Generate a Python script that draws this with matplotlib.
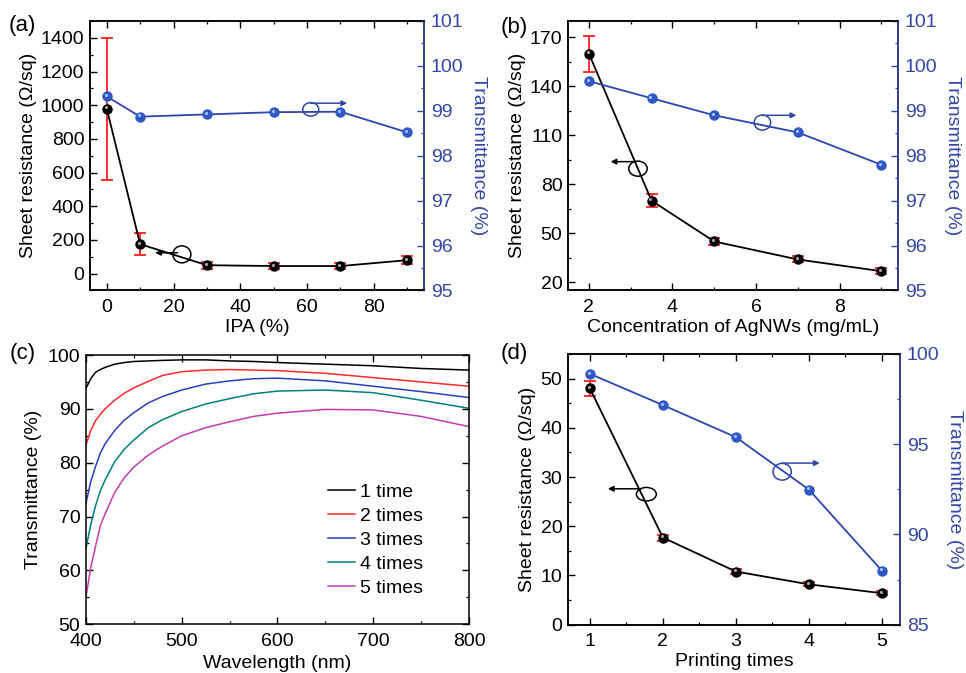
import matplotlib

matplotlib.use("Agg")
import matplotlib.pyplot as plt
from matplotlib.patches import Ellipse
from matplotlib.ticker import MultipleLocator
from matplotlib.transforms import offset_copy

plt.rcParams["font.family"] = ["Liberation Sans", "DejaVu Sans"]
plt.rcParams["font.size"] = 14
plt.rcParams["axes.linewidth"] = 1.1

BLUE_AX = "#3347a6"
BLUE_LN = "#2c46b0"
BLUE_MK = "#2f58c4"
RED = "#ff2020"

# (a) IPA content
ipa = [0, 10, 30, 50, 70, 90]
ipa_r = [980, 175, 50, 45, 45, 80]
ipa_r_err = [422, 65, 20, 18, 18, 22]
ipa_t = [99.32, 98.87, 98.92, 98.97, 98.98, 98.52]

# (b) AgNW concentration
conc = [2, 3.5, 5, 7, 9]
conc_r = [160, 70, 45, 34, 26.8]
conc_r_err = [11, 4, 2, 1.8, 1.8]
conc_t = [99.66, 99.28, 98.9, 98.52, 97.8]

# (c) spectra
wl = [400, 405, 410, 415, 420, 430, 440, 450, 465, 480, 500, 525, 550, 575, 600, 650, 700, 750, 800]
spectra = {
    "1 time": [93.8, 95.6, 96.8, 97.3, 97.7, 98.3, 98.6, 98.8, 98.9, 99.0, 99.1, 99.1, 98.9, 98.8, 98.6, 98.3, 98.0, 97.5, 97.2],
    "2 times": [83.3, 86.0, 87.8, 89.0, 90.0, 91.6, 92.9, 93.9, 95.1, 96.2, 96.9, 97.2, 97.3, 97.2, 97.1, 96.6, 95.8, 95.0, 94.2],
    "3 times": [72.5, 76.5, 79.3, 81.8, 83.5, 86.0, 87.9, 89.3, 91.1, 92.3, 93.5, 94.6, 95.2, 95.6, 95.7, 95.2, 94.2, 93.2, 92.1],
    "4 times": [64.1, 68.5, 72.0, 74.8, 76.8, 80.2, 82.5, 84.2, 86.5, 88.0, 89.5, 90.9, 91.9, 92.8, 93.3, 93.5, 93.0, 91.6, 90.1],
    "5 times": [55.1, 60.5, 64.5, 68.3, 70.5, 74.5, 77.2, 79.2, 81.4, 83.1, 85.0, 86.5, 87.6, 88.6, 89.2, 89.9, 89.8, 88.6, 86.7],
}
spec_colors = ["#000000", "#ff2a2a", "#2a3fbf", "#008080", "#c23cb4"]

# (d) printing times
prints = [1, 2, 3, 4, 5]
print_r = [48, 17.7, 10.8, 8.2, 6.4]
print_r_err = [1.5, 0.6, 0.5, 0.4, 0.4]
print_t = [98.9, 97.17, 95.39, 92.49, 88.0]


def style_ticks(ax, xmaj, xmin, ymaj, ymin, right=True, yoff=0):
    ax.xaxis.set_major_locator(MultipleLocator(xmaj))
    ax.xaxis.set_minor_locator(MultipleLocator(xmin))
    ax.yaxis.set_major_locator(MultipleLocator(ymaj, offset=yoff))
    ax.yaxis.set_minor_locator(MultipleLocator(ymin, offset=yoff))
    ax.tick_params(which="both", direction="in", top=True, right=right)
    ax.tick_params(which="major", length=5, width=1.0)
    ax.tick_params(which="minor", length=2.5, width=0.9)
    ax.tick_params(axis="x", pad=6)
    ax.tick_params(axis="y", pad=4)


def sphere(ax, x, y, face, hi, size):
    ax.plot(x, y, "o", ms=size, mfc=face, mec=face, zorder=5)
    tr = offset_copy(ax.transData, fig=ax.figure, x=-1.2, y=1.2, units="dots")
    ax.plot(x, y, "o", ms=size * 0.35, mfc=hi, mec="none", transform=tr, zorder=6, alpha=0.8)


def dual_panel(pos, x, r, rerr, t, xlim, rlim, tlim, xt, rt, tt, xlabel, roff=0):
    ax = fig.add_axes(pos)
    ax.errorbar(x, r, yerr=rerr, fmt="none", ecolor=RED, elinewidth=1.3, capsize=4, capthick=1.3, zorder=3)
    ax.plot(x, r, "-", color="black", lw=1.3, zorder=4)
    sphere(ax, x, r, "black", "#d0d0d0", 6.5)
    ax.set_xlim(*xlim)
    ax.set_ylim(*rlim)
    style_ticks(ax, xt[0], xt[1], rt[0], rt[1], right=False, yoff=roff)
    ax.set_xlabel(xlabel, labelpad=2)
    ax.set_ylabel("Sheet resistance (\u03a9/sq)", labelpad=3)

    ax2 = ax.twinx()
    ax2.plot(x, t, "-", color=BLUE_LN, lw=1.3, zorder=4)
    sphere(ax2, x, t, BLUE_MK, "#c8d8ff", 6.5)
    ax2.set_ylim(*tlim)
    ax2.yaxis.set_major_locator(MultipleLocator(tt[0]))
    ax2.yaxis.set_minor_locator(MultipleLocator(tt[1]))
    ax2.tick_params(which="both", direction="in", colors=BLUE_AX, pad=5)
    ax2.tick_params(which="major", length=5, width=1.0)
    ax2.tick_params(which="minor", length=2.5, width=0.9)
    ax2.spines["right"].set_color(BLUE_AX)
    ax2.set_ylabel("Transmittance (%)", color=BLUE_AX, rotation=270, labelpad=17)
    return ax, ax2


def marker_note(ax, center, size, arrow, color):
    ax.add_patch(Ellipse(center, size[0], size[1], transform=ax.transAxes, fill=False, ec=color, lw=1.1, zorder=7))
    ax.annotate("", xy=arrow[1], xytext=arrow[0], xycoords="axes fraction", textcoords="axes fraction",
                arrowprops=dict(arrowstyle="-|>", color=color, lw=1.1, mutation_scale=8, shrinkA=0, shrinkB=0), zorder=7)


fig = plt.figure(figsize=(9.66, 6.73), dpi=100)

# (a)
axa, axa2 = dual_panel([0.0932, 0.5684, 0.3457, 0.4004], ipa, ipa_r, ipa_r_err, ipa_t,
                       (-5, 95), (-100, 1500), (95, 101), (20, 10), (200, 100), (1, 0.5), "IPA (%)")
marker_note(axa, (0.275, 0.134), (0.054, 0.063), ((0.262, 0.14), (0.195, 0.14)), "black")
marker_note(axa2, (0.661, 0.672), (0.048, 0.05), ((0.661, 0.695), (0.77, 0.695)), BLUE_AX)

# (b)
axb, axb2 = dual_panel([0.588, 0.5684, 0.3416, 0.4004], conc, conc_r, conc_r_err, conc_t,
                       (1.5, 9.4), (15, 180), (95, 101), (2, 1), (30, 15), (1, 0.5),
                       "Concentration of AgNWs (mg/mL)", roff=20)
marker_note(axb, (0.212, 0.452), (0.056, 0.056), ((0.205, 0.478), (0.129, 0.478)), "black")
marker_note(axb2, (0.589, 0.623), (0.05, 0.056), ((0.589, 0.65), (0.692, 0.65)), BLUE_AX)

# (c)
axc = fig.add_axes([0.089, 0.0724, 0.3965, 0.4001])
for (label, vals), c in zip(spectra.items(), spec_colors):
    axc.plot(wl, vals, color=c, lw=1.1, label=label)
axc.set_xlim(400, 800)
axc.set_ylim(50, 100)
style_ticks(axc, 100, 50, 10, 5)
axc.set_xlabel("Wavelength (nm)", labelpad=4)
axc.set_ylabel("Transmittance (%)", labelpad=4)
axc.legend(loc="center left", bbox_to_anchor=(0.632, 0.3115), frameon=False, handlelength=1.4,
           handletextpad=0.25, labelspacing=0.33, borderaxespad=0, borderpad=0)

# (d)
axd, axd2 = dual_panel([0.588, 0.0718, 0.3437, 0.4022], prints, print_r, print_r_err, print_t,
                       (0.7, 5.25), (0, 55), (85, 100), (1, 0.5), (10, 5), (5, 2.5), "Printing times")
marker_note(axd, (0.236, 0.482), (0.06, 0.05), ((0.222, 0.502), (0.12, 0.502)), "black")
marker_note(axd2, (0.645, 0.565), (0.055, 0.062), ((0.645, 0.597), (0.758, 0.597)), BLUE_AX)

for lbl, (px, py) in {"(a)": (22, 26), "(b)": (514, 27), "(c)": (23, 354), "(d)": (514, 353)}.items():
    fig.text(px / 966, 1 - py / 673, lbl, ha="center", va="center", fontsize=16)

fig.savefig("out.png", dpi=100)
